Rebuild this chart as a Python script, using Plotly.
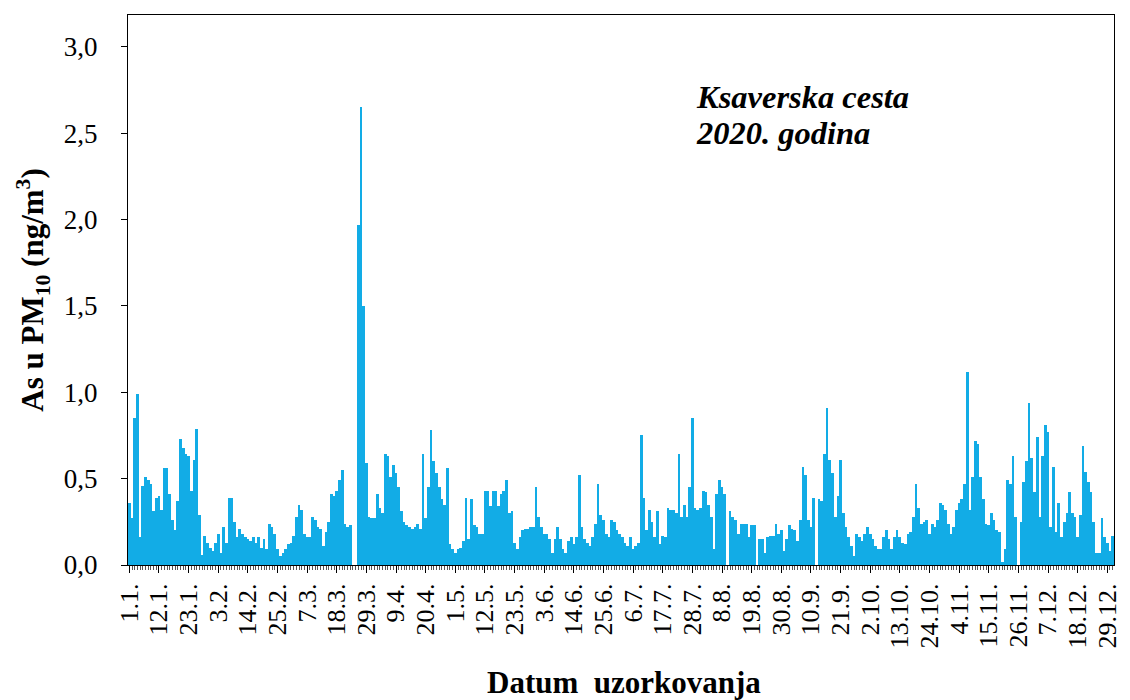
import plotly.graph_objects as go

# Daily As in PM10 (ng/m3), Ksaverska cesta, 2020 (366 days)
jan = [0.36, 0.27, 0.85, 0.99, 0.16, 0.46, 0.51, 0.49, 0.47, 0.31, 0.39, 0.40, 0.32, 0.56, 0.56, 0.41,
       0.26, 0.20, 0.37, 0.73, 0.68, 0.64, 0.63, 0.43, 0.61, 0.79, 0.29, 0.06, 0.17, 0.13, 0.10]
feb = [0.08, 0.13, 0.18, 0.07, 0.22, 0.13, 0.39, 0.39, 0.25, 0.16, 0.21, 0.18, 0.16, 0.15, 0.14, 0.16,
       0.13, 0.16, 0.10, 0.15, 0.09, 0.24, 0.22, 0.18, 0.09, 0.05, 0.07, 0.09, 0.12]
mar = [0.13, 0.17, 0.28, 0.35, 0.32, 0.18, 0.16, 0.16, 0.28, 0.26, 0.22, 0.21, 0.11, 0.19, 0.25, 0.41,
       0.40, 0.43, 0.49, 0.55, 0.24, 0.22, 0.23, 0.0, 0.0, 1.97, 2.65, 1.50, 0.59, 0.28, 0.27]
apr = [0.27, 0.41, 0.33, 0.30, 0.64, 0.63, 0.51, 0.58, 0.53, 0.45, 0.31, 0.25, 0.23, 0.22, 0.21, 0.22,
       0.24, 0.21, 0.64, 0.27, 0.45, 0.78, 0.60, 0.53, 0.45, 0.38, 0.35, 0.56, 0.12, 0.09]
may = [0.07, 0.09, 0.10, 0.14, 0.39, 0.15, 0.38, 0.23, 0.22, 0.18, 0.18, 0.43, 0.43, 0.34, 0.43, 0.43,
       0.34, 0.41, 0.43, 0.49, 0.30, 0.31, 0.13, 0.09, 0.16, 0.20, 0.21, 0.21, 0.22, 0.22, 0.45]
jun = [0.28, 0.22, 0.18, 0.18, 0.15, 0.07, 0.15, 0.22, 0.15, 0.09, 0.07, 0.14, 0.16, 0.12, 0.16, 0.52,
       0.22, 0.15, 0.13, 0.11, 0.16, 0.24, 0.47, 0.29, 0.26, 0.18, 0.16, 0.26, 0.25, 0.20]
jul = [0.18, 0.16, 0.13, 0.11, 0.16, 0.09, 0.11, 0.13, 0.75, 0.39, 0.20, 0.32, 0.25, 0.16, 0.31, 0.12,
       0.17, 0.16, 0.33, 0.32, 0.32, 0.30, 0.64, 0.28, 0.35, 0.28, 0.45, 0.85, 0.33, 0.32, 0.33]
aug = [0.43, 0.42, 0.35, 0.28, 0.09, 0.41, 0.49, 0.45, 0.41, 0.0, 0.31, 0.28, 0.26, 0.18, 0.24, 0.24,
       0.24, 0.16, 0.23, 0.23, 0.0, 0.15, 0.15, 0.07, 0.16, 0.17, 0.17, 0.24, 0.18, 0.20, 0.08]
sep = [0.15, 0.23, 0.21, 0.20, 0.14, 0.26, 0.57, 0.52, 0.26, 0.22, 0.39, 0.0, 0.38, 0.37, 0.64, 0.91,
       0.61, 0.53, 0.28, 0.40, 0.61, 0.30, 0.22, 0.16, 0.11, 0.05, 0.18, 0.16, 0.14, 0.18]
oct_ = [0.22, 0.18, 0.15, 0.11, 0.09, 0.09, 0.16, 0.20, 0.15, 0.09, 0.16, 0.20, 0.16, 0.13, 0.12, 0.18,
        0.19, 0.28, 0.47, 0.33, 0.24, 0.25, 0.26, 0.18, 0.24, 0.22, 0.26, 0.36, 0.35, 0.32, 0.24]
nov = [0.18, 0.22, 0.32, 0.36, 0.38, 0.47, 1.12, 0.32, 0.51, 0.72, 0.70, 0.51, 0.38, 0.24, 0.23, 0.30,
       0.26, 0.20, 0.19, 0.02, 0.09, 0.49, 0.47, 0.63, 0.28, 0.0, 0.25, 0.48, 0.60, 0.94]
dec = [0.62, 0.42, 0.74, 0.28, 0.63, 0.81, 0.77, 0.22, 0.57, 0.19, 0.36, 0.16, 0.25, 0.30, 0.42, 0.30,
       0.28, 0.16, 0.29, 0.69, 0.54, 0.48, 0.42, 0.25, 0.07, 0.07, 0.27, 0.16, 0.13, 0.08, 0.17]

values = jan + feb + mar + apr + may + jun + jul + aug + sep + oct_ + nov + dec
days = list(range(len(values)))

tick_days = list(range(0, 366, 11))
tick_labels = ["1.1.", "12.1.", "23.1.", "3.2.", "14.2.", "25.2.", "7.3.", "18.3.", "29.3.", "9.4.",
               "20.4.", "1.5.", "12.5.", "23.5.", "3.6.", "14.6.", "25.6.", "6.7.", "17.7.", "28.7.",
               "8.8.", "19.8.", "30.8.", "10.9.", "21.9.", "2.10.", "13.10.", "24.10.", "4.11.",
               "15.11.", "26.11.", "7.12.", "18.12.", "29.12."]

y_ticks = [0, 0.5, 1.0, 1.5, 2.0, 2.5, 3.0]
y_labels = ["0,0", "0,5", "1,0", "1,5", "2,0", "2,5", "3,0"]

SERIF = "Liberation Serif"

fig = go.Figure(go.Bar(x=days, y=values, marker=dict(color="#12ACE6", line=dict(width=0)),
                       hoverinfo="x+y"))

fig.update_layout(
    width=1130, height=700,
    margin=dict(l=128, r=8, t=15, b=135),
    plot_bgcolor="white", paper_bgcolor="white",
    bargap=0, showlegend=False,
    font=dict(family=SERIF, color="black"),
)

fig.update_xaxes(
    range=[-0.5, 365.5], tickmode="array", tickvals=tick_days, ticktext=tick_labels,
    tickangle=-90, tickfont=dict(family=SERIF, size=26, color="black"),
    ticklabeloverflow="allow",
    ticks="outside", ticklen=7, tickcolor="black", tickwidth=1,
    minor=dict(tickmode="linear", tick0=0, dtick=1, ticks="outside", ticklen=4,
               tickcolor="#555555", tickwidth=1),
    showline=True, linecolor="black", linewidth=1, mirror=True, showgrid=False, zeroline=False,
)

fig.update_yaxes(
    range=[0, 3.185], tickmode="array", tickvals=y_ticks, ticktext=y_labels,
    tickfont=dict(family=SERIF, size=27, color="black"),
    ticks="outside", ticklen=6, tickcolor="black", ticklabelstandoff=18,
    showline=True, linecolor="black", linewidth=1, mirror=True, showgrid=False, zeroline=False,
    title=dict(text="<b>As u PM<sub>10</sub> (ng/m<sup>3</sup>)</b>",
               font=dict(family=SERIF, size=31, color="black"), standoff=10),
)

fig.add_annotation(
    xref="paper", yref="paper", x=(628 - 128) / 994, y=(565 - 682) / 550,
    xanchor="center", yanchor="middle",
    text="<b>Datum  uzorkovanja</b>", showarrow=False,
    font=dict(family=SERIF, size=31, color="black"),
)

fig.add_annotation(
    xref="paper", yref="paper", x=0.574, y=(565 - 97) / 550, xanchor="left", yanchor="middle",
    text="<b><i>Ksaverska cesta</i></b>", showarrow=False,
    font=dict(family=SERIF, size=32.5, color="black"),
)
fig.add_annotation(
    xref="paper", yref="paper", x=0.574, y=(565 - 133) / 550, xanchor="left", yanchor="middle",
    text="<b><i>2020. godina</i></b>", showarrow=False,
    font=dict(family=SERIF, size=32.5, color="black"),
)

fig.write_html("out.html", config={"displayModeBar": False},
               post_script="document.body.style.margin='0';")
